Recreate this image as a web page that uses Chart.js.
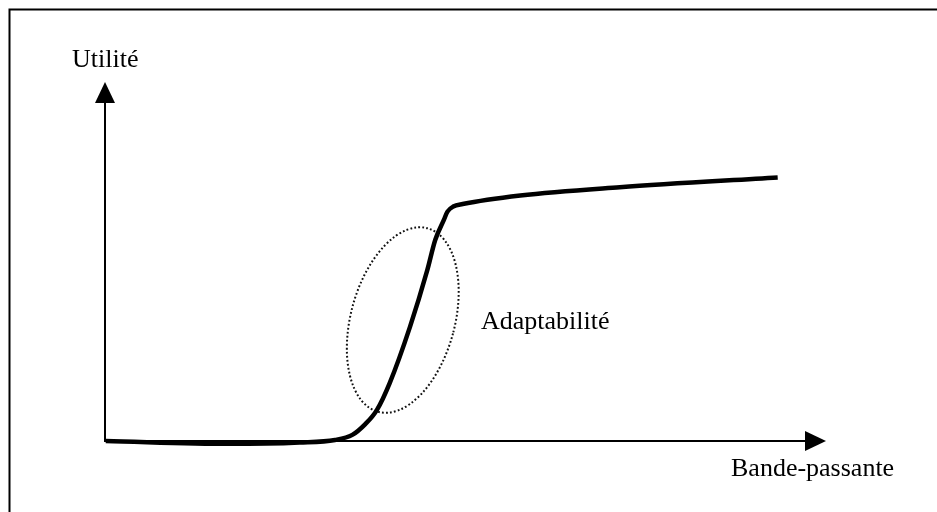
<!DOCTYPE html>
<html>
<head>
<meta charset="utf-8">
<script src="https://cdn.jsdelivr.net/npm/chart.js@4"></script>
<style>
  body { margin: 0; background: #fff; }
  canvas { display: block; }
</style>
</head>
<body>
<canvas id="canvas" width="937" height="512"></canvas>
<script>
// courbe utilité / bande-passante (unités arbitraires 0..100)
const bandwidth = [0.1, 17.3, 27.0, 31.9, 34.3, 36.1, 37.7, 39.5, 42.3, 44.7, 45.8, 47.0, 47.5, 48.3, 49.6, 57.6, 71.4, 93.3];
const utility   = [0, -0.8, -0.4, 0.3, 1.7, 4.7, 8.6, 16.2, 31.8, 47.6, 56.0, 61.6, 63.9, 65.3, 66.0, 68.4, 70.7, 73.4];

// zone d'adaptabilité (centre de l'ellipse, en unités des axes)
const zoneCenter = [41.3, 33.7];

const xLabel = "Bande-passante";
const yLabel = "Utilité";
const zoneLabel = "Adaptabilité";

const points = bandwidth.map((x, i) => ({ x: x, y: utility[i] }));

const FONT = "26px 'Liberation Serif', 'Times New Roman', serif";

// axes avec flèches, cadre, ellipse pointillée et textes
const schemaPlugin = {
  id: "schema",
  beforeDatasetsDraw(chart) {
    const ctx = chart.ctx;
    const a = chart.chartArea;
    const xs = chart.scales.x;
    const ys = chart.scales.y;
    ctx.save();

    // cadre
    ctx.strokeStyle = "#000";
    ctx.lineWidth = 2;
    ctx.strokeRect(9.5, 9.5, 1000, 1000);

    // axe vertical
    const x0 = xs.getPixelForValue(0);
    const y0 = ys.getPixelForValue(0);
    ctx.lineWidth = 2;
    ctx.beginPath();
    ctx.moveTo(x0, y0 + 1);
    ctx.lineTo(x0, a.top + 20);
    ctx.stroke();
    ctx.fillStyle = "#000";
    ctx.beginPath();
    ctx.moveTo(x0, a.top);
    ctx.lineTo(x0 - 10, a.top + 21);
    ctx.lineTo(x0 + 10, a.top + 21);
    ctx.closePath();
    ctx.fill();

    // axe horizontal
    ctx.beginPath();
    ctx.moveTo(x0, y0);
    ctx.lineTo(a.right - 20, y0);
    ctx.stroke();
    ctx.beginPath();
    ctx.moveTo(a.right, y0);
    ctx.lineTo(a.right - 21, y0 - 10);
    ctx.lineTo(a.right - 21, y0 + 10);
    ctx.closePath();
    ctx.fill();

    // ellipse
    const cx = xs.getPixelForValue(zoneCenter[0]);
    const cy = ys.getPixelForValue(zoneCenter[1]);
    ctx.lineWidth = 2;
    ctx.setLineDash([1.8, 2.2]);
    ctx.strokeStyle = "#111";
    ctx.beginPath();
    ctx.ellipse(cx, cy, 52, 95, 15 * Math.PI / 180, 0, 2 * Math.PI);
    ctx.stroke();
    ctx.setLineDash([]);

    // textes
    ctx.fillStyle = "#000";
    ctx.font = FONT;
    ctx.textBaseline = "alphabetic";
    ctx.textAlign = "left";
    ctx.fillText(yLabel, 72, 67);
    ctx.fillText(xLabel, 731, 476);
    ctx.fillText(zoneLabel, 481, 329);

    ctx.restore();
  }
};

const chart = new Chart(document.getElementById("canvas"), {
  type: "line",
  data: {
    datasets: [
      {
        data: points,
        borderColor: "#000",
        borderWidth: 4.5,
        pointRadius: 0,
        fill: false,
        tension: 0.4,
        cubicInterpolationMode: "monotone",
        clip: false,
      },
    ],
  },
  options: {
    responsive: false,
    animation: false,
    layout: { padding: { left: 105, right: 111, top: 82, bottom: 71 } },
    plugins: { legend: { display: false }, tooltip: { enabled: false } },
    scales: {
      x: { type: "linear", min: 0, max: 100, display: false },
      y: { type: "linear", min: 0, max: 100, display: false },
    },
  },
  plugins: [schemaPlugin],
});
</script>
</body>
</html>
